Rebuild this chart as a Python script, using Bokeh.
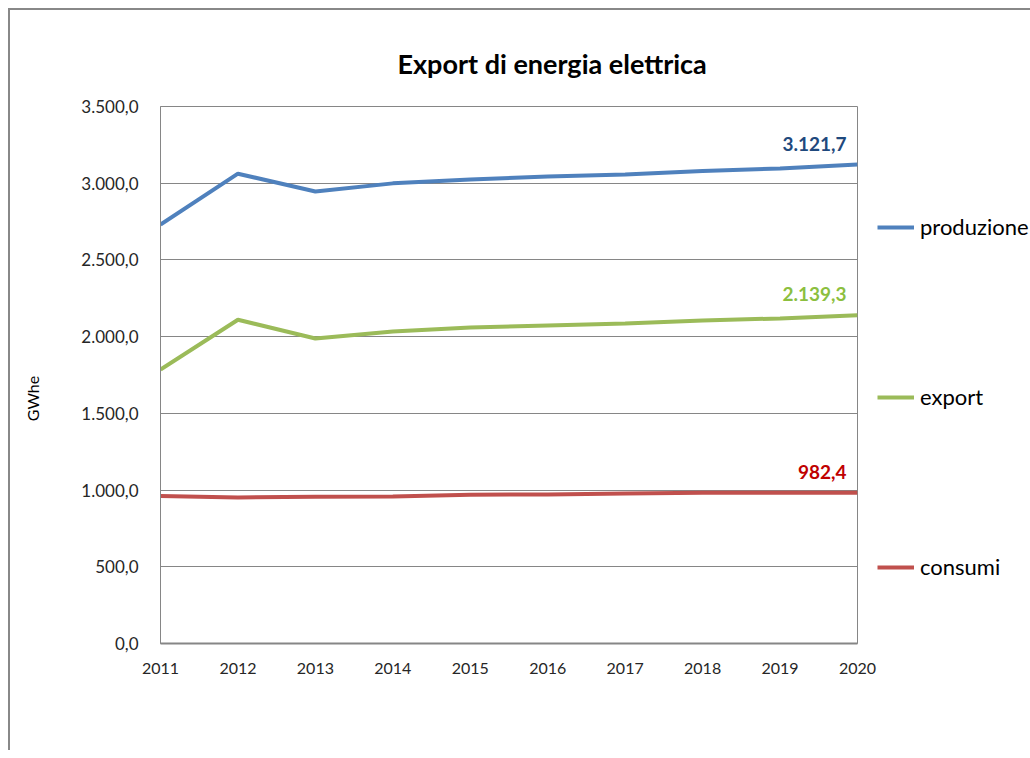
import math
from bokeh.plotting import figure
from bokeh.layouts import row
from bokeh.models import (ColumnDataSource, LabelSet, Label, FixedTicker, Legend, LegendItem,
                          CustomJSTickFormatter, Range1d)
from bokeh.core.properties import value
from bokeh.embed import file_html
from bokeh.resources import INLINE

# ---- data ----
years = [2011, 2012, 2013, 2014, 2015, 2016, 2017, 2018, 2019, 2020]
produzione = [2731, 3062, 2946, 2999, 3025, 3044, 3057, 3079, 3096, 3121.7]
export = [1786, 2110, 1988, 2034, 2060, 2073, 2086, 2105, 2119, 2139.3]
consumi = [962, 952, 957, 958, 970, 971, 977, 982, 982, 982.4]
series_names = ["produzione", "export", "consumi"]
series_values = [produzione, export, consumi]
line_colors = ["#4F81BD", "#9BBB59", "#C0504D"]
label_colors = ["#1F497D", "#8CBF3F", "#C00000"]
y_ticks = [0, 500, 1000, 1500, 2000, 2500, 3000, 3500]
title_text = "Export di energia elettrica"
y_label = "GWhe"

FONT = "Lato"


def it_fmt(v):
    s = f"{v:,.1f}"
    return s.replace(",", "X").replace(".", ",").replace("X", ".")


p = figure(width=807, height=740, output_backend="svg", toolbar_location=None,
           x_range=Range1d(years[0], years[-1]), y_range=Range1d(y_ticks[0], y_ticks[-1]),
           min_border_left=90, min_border_right=20, min_border_top=96,
           min_border_bottom=107, title=title_text)

p.title.align = "left"
p.title.offset = 237
p.title.standoff = 54
p.title.text_font = FONT
p.title.text_font_size = "27px"
p.title.text_font_style = "bold"
p.title.text_color = "#000000"

p.outline_line_color = "#868686"
p.outline_line_width = 1
p.background_fill_color = "white"
p.border_fill_color = "white"

p.xgrid.visible = False
p.ygrid.grid_line_color = "#868686"
p.ygrid.grid_line_width = 1
p.ygrid.ticker = FixedTicker(ticks=y_ticks)

p.yaxis.ticker = FixedTicker(ticks=y_ticks)
p.yaxis.formatter = CustomJSTickFormatter(code="""
const s = tick.toFixed(1); const parts = s.split('.');
return parts[0].replace(/\\B(?=(\\d{3})+(?!\\d))/g, '.') + ',' + parts[1];
""")
p.xaxis.ticker = FixedTicker(ticks=years)
for ax in (p.xaxis[0], p.yaxis[0]):
    ax.major_tick_out = 0
    ax.major_tick_in = 0
    ax.minor_tick_out = 0
    ax.minor_tick_in = 0
    ax.axis_line_color = "#868686"
    ax.major_label_text_font = FONT
    ax.major_label_text_color = "#262626"
p.xaxis.major_label_text_font_size = "16px"
p.yaxis.major_label_text_font_size = "17px"
p.xaxis.axis_line_width = 2
p.yaxis.axis_line_width = 1
p.yaxis.major_label_standoff = 22
p.xaxis.major_label_standoff = 19

for name, vals, col in zip(series_names, series_values, line_colors):
    p.line(years, vals, line_color=col, line_width=4)

src = ColumnDataSource(dict(
    x=[years[-1]] * 3,
    y=[v[-1] for v in series_values],
    text=[it_fmt(v[-1]) for v in series_values],
    color=label_colors,
))
p.add_layout(LabelSet(x="x", y="y", text="text", source=src, text_color="color",
                      text_align="right", text_baseline="middle",
                      x_offset=-11, y_offset=21, text_font=value(FONT),
                      text_font_size="19px", text_font_style="bold"))

# ---- y-axis title panel (left) ----
lft = figure(width=60, height=740, output_backend="svg", toolbar_location=None,
             x_range=Range1d(0, 1), y_range=Range1d(0, 1),
             x_axis_type=None, y_axis_type=None, min_border=0)
lft.grid.visible = False
lft.outline_line_color = None
lft.background_fill_color = "white"
lft.border_fill_color = "white"
lft.add_layout(Label(x=22, y=245, x_units="screen", y_units="screen", text=y_label,
                     angle=math.pi / 2, text_align="center", text_baseline="middle",
                     text_font=FONT, text_font_size="16px", text_color="#000000"))

# ---- legend panel (right) ----
leg = figure(width=153, height=740, output_backend="svg", toolbar_location=None,
             x_range=Range1d(0, 1), y_range=Range1d(0, 1),
             x_axis_type=None, y_axis_type=None, min_border=0)
leg.grid.visible = False
leg.outline_line_color = None
leg.background_fill_color = "white"
leg.border_fill_color = "white"
items = []
for name, vals, col in zip(series_names, series_values, line_colors):
    r = leg.line(years, vals, line_color=col, line_width=4)
    items.append(LegendItem(label=name, renderers=[r]))
lg = Legend(items=items, location=(0, 63), orientation="vertical", padding=0,
            margin=0, spacing=143, border_line_color=None, background_fill_alpha=0,
            glyph_width=37, glyph_height=20, label_height=20, label_standoff=6,
            label_text_font=FONT, label_text_font_size="22px",
            label_text_color="#000000")
leg.add_layout(lg)

layout = row(lft, p, leg, spacing=0)
layout.styles = {"margin-left": "8px", "margin-top": "8px",
                 "border-left": "2px solid #888888", "border-top": "2px solid #888888"}

open("out.html", "w").write(file_html(layout, INLINE))
